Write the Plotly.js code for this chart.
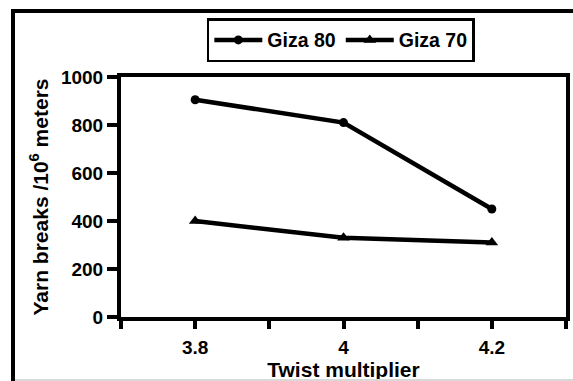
<!DOCTYPE html>
<html>
<head>
<meta charset="utf-8">
<script src="https://cdn.plot.ly/plotly-3.0.1.min.js"></script>
<style>
  html, body { margin: 0; padding: 0; background: #fff; }
  #wrap { position: relative; width: 573px; height: 381px; overflow: hidden; }
  #chart { position: absolute; left: 0; top: 0; width: 573px; height: 381px; }
  #frame { position: absolute; left: 11px; top: 9px; width: 600px; height: 400px;
           border-left: 4px solid #000; border-top: 4px solid #000; pointer-events: none; }
  #bottom { position: absolute; left: 15px; top: 379px; width: 558px; height: 2px; background: #d9d9d9; }
</style>
</head>
<body>
<div id="wrap">
  <div id="chart"></div>
  <div id="frame"></div>
  <div id="bottom"></div>
</div>
<script>
const twistMultiplier = [3.8, 4.0, 4.2];
const giza80 = [905, 810, 450];
const giza70 = [400, 330, 310];
const xTickVals = [3.7, 3.8, 3.9, 4.0, 4.1, 4.2, 4.3];
const xTickText = ['', '3.8', '', '4', '', '4.2', ''];
const yTickVals = [0, 200, 400, 600, 800, 1000];

const fam = 'Liberation Sans, Arial, sans-serif';

const traces = [
  {x: twistMultiplier, y: giza80, name: 'Giza 80', type: 'scatter', mode: 'lines+markers',
   line: {color: '#000', width: 4.5}, marker: {symbol: 'circle', size: 9, color: '#000'}},
  {x: twistMultiplier, y: giza70, name: 'Giza 70', type: 'scatter', mode: 'lines+markers',
   line: {color: '#000', width: 4.5}, marker: {symbol: 'triangle-up', size: 11, color: '#000'}}
];

const layout = {
  width: 573, height: 381,
  margin: {l: 121, r: 7, t: 77, b: 64},
  paper_bgcolor: '#fff', plot_bgcolor: '#fff',
  font: {family: fam, size: 19, color: '#000'},
  showlegend: true,
  legend: {orientation: 'h', x: 0.494, xanchor: 'center', y: 1.245, yanchor: 'top',
           bordercolor: '#000', borderwidth: 2.5, bgcolor: '#fff',
           font: {family: fam, size: 19.5, color: '#000', weight: 'bold'},
           itemwidth: 48, tracegroupgap: 0},
  xaxis: {
    range: [3.7, 4.3], tickmode: 'array', tickvals: xTickVals, ticktext: xTickText,
    showgrid: false, zeroline: false, showline: true, linecolor: '#000', linewidth: 4, mirror: true,
    ticks: 'outside', ticklen: 8, tickwidth: 4, tickcolor: '#000', ticklabelstandoff: 2,
    tickfont: {family: fam, size: 19, color: '#000', weight: 'bold'},
    title: {text: 'Twist multiplier', standoff: 0,
            font: {family: fam, size: 21, color: '#000', weight: 'bold'}}
  },
  yaxis: {
    range: [0, 1000], tickmode: 'array', tickvals: yTickVals,
    showgrid: false, zeroline: false, showline: true, linecolor: '#000', linewidth: 4, mirror: true,
    ticks: 'outside', ticklen: 10, tickwidth: 4, tickcolor: '#000',
    tickfont: {family: fam, size: 19, color: '#000', weight: 'bold'},
    title: {text: 'Yarn breaks /10<sup>6</sup> meters', standoff: 8,
            font: {family: fam, size: 21, color: '#000', weight: 'bold'}}
  }
};

Plotly.newPlot('chart', traces, layout, {staticPlot: true, displayModeBar: false});
</script>
</body>
</html>
